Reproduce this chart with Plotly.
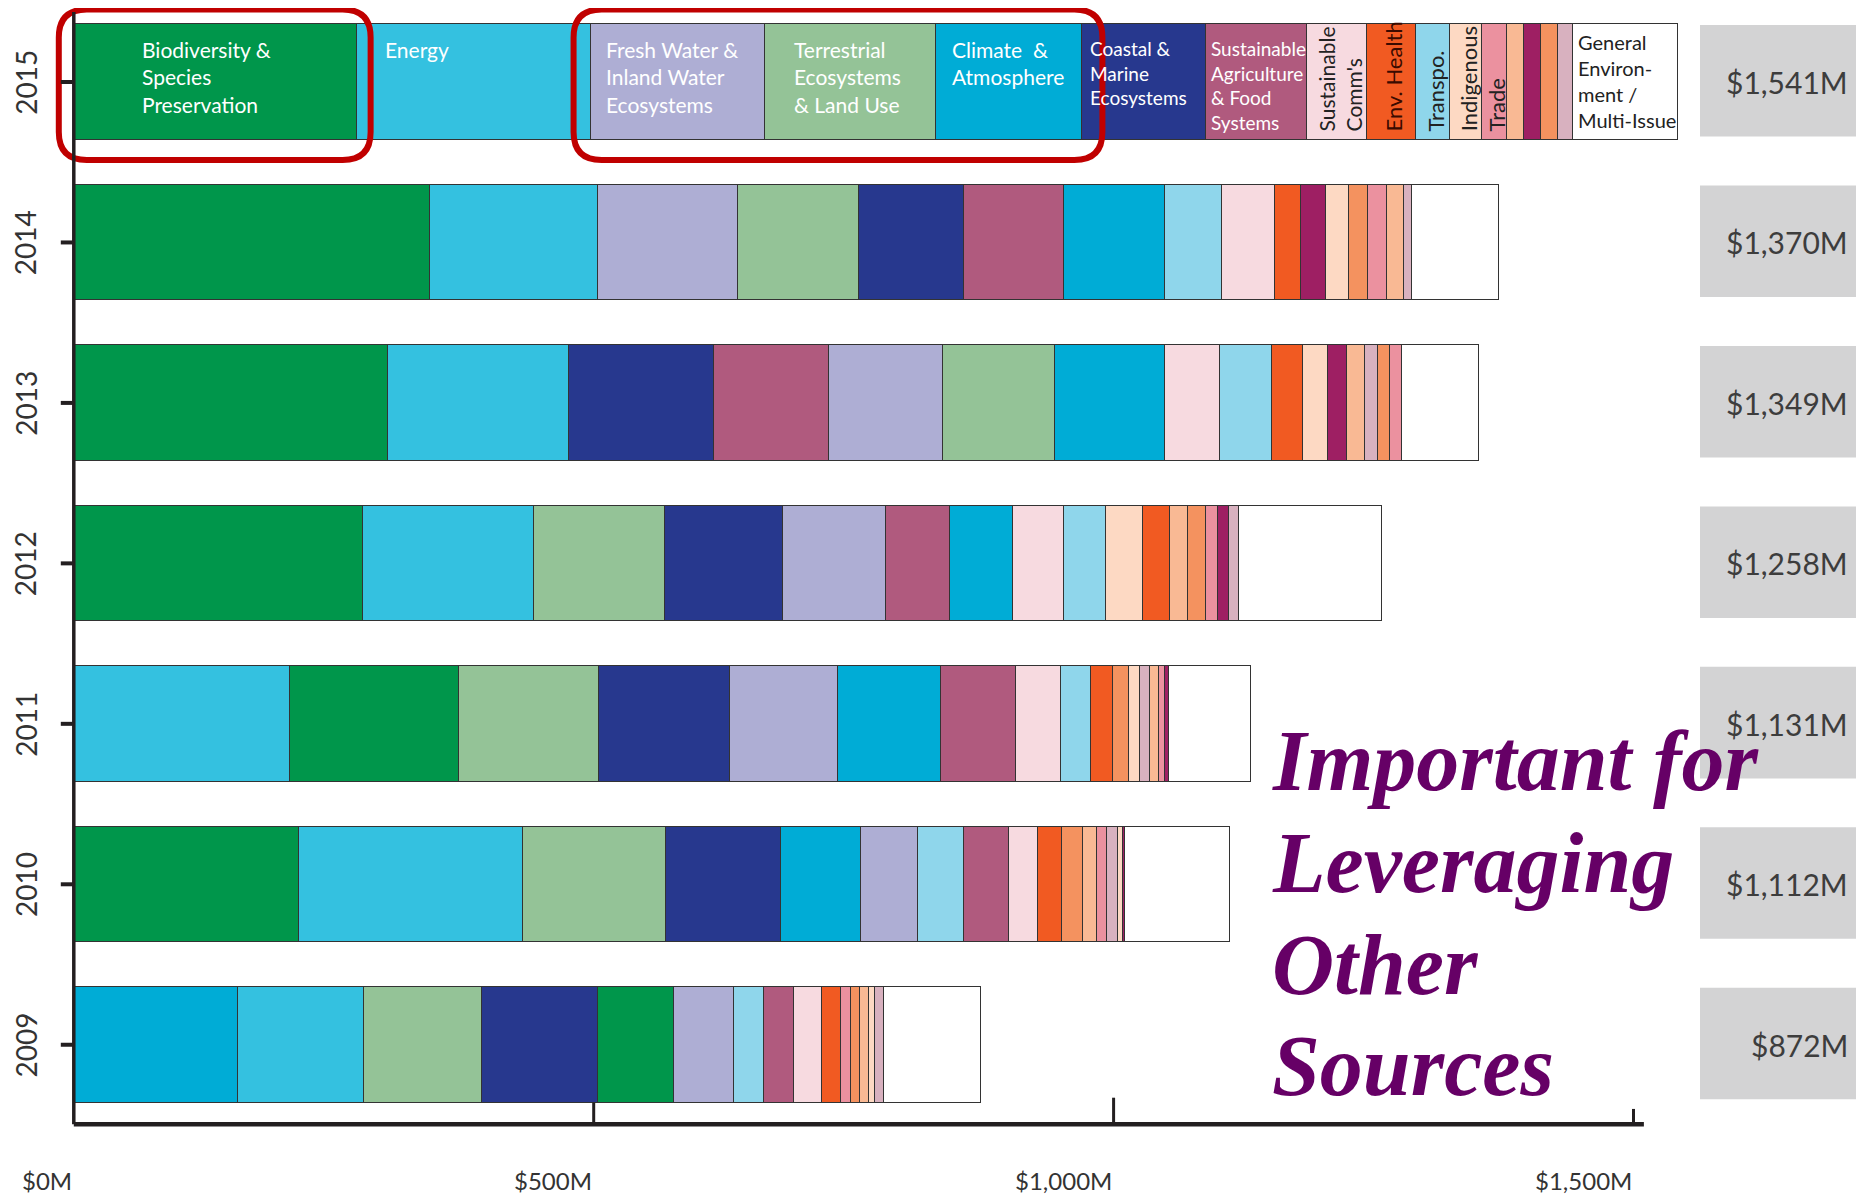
import plotly.graph_objects as go

# ---------------- data ----------------
years = ["2015", "2014", "2013", "2012", "2011", "2010", "2009"]
totals = [1541, 1370, 1349, 1258, 1131, 1112, 872]
tick_values = [0, 500, 1000, 1500]
tick_labels = ["$0M", "$500M", "$1,000M", "$1,500M"]
callout_lines = ["Important for", "Leveraging", "Other", "Sources"]

BIO = "Biodiversity & Species Preservation"
ENE = "Energy"
FRE = "Fresh Water & Inland Water Ecosystems"
TER = "Terrestrial Ecosystems & Land Use"
CLI = "Climate & Atmosphere"
COA = "Coastal & Marine Ecosystems"
AGR = "Sustainable Agriculture & Food Systems"
COM = "Sustainable Communities"
ENV = "Environmental Health"
TRA = "Transportation"
IND = "Indigenous Peoples"
TRD = "Trade & Finance"
POP = "Population"
TOX = "Toxics"
CON = "Consumption & Waste"
OTH = "Other"
GEN = "General Environment / Multi-Issue"

order_2015 = [BIO, ENE, FRE, TER, CLI, COA, AGR, COM, ENV, TRA, IND, TRD, POP, TOX, CON, OTH, GEN]
values_2015 = [272, 225, 168, 164, 141, 119, 97, 58, 47, 33, 30, 24, 17, 16, 16, 15, 101]

order_2014 = [BIO, ENE, FRE, TER, COA, AGR, CLI, TRA, COM, ENV, TOX, IND, CON, TRD, POP, OTH, GEN]
values_2014 = [343, 161, 135, 116, 101, 96, 97, 55, 51, 25, 24, 22, 19, 18, 16, 8, 84]

order_2013 = [BIO, ENE, COA, AGR, FRE, TER, CLI, COM, TRA, ENV, IND, TOX, POP, OTH, CON, TRD, GEN]
values_2013 = [302, 174, 140, 110, 110, 108, 105, 53, 50, 30, 24, 18, 18, 12, 12, 11, 74]

order_2012 = [BIO, ENE, TER, COA, FRE, AGR, CLI, COM, TRA, IND, ENV, POP, CON, TRD, TOX, OTH, GEN]
values_2012 = [278, 165, 126, 113, 99, 62, 60, 49, 41, 35, 26, 18, 17, 11, 11, 10, 137]

order_2011 = [ENE, BIO, TER, COA, FRE, CLI, AGR, COM, TRA, ENV, CON, IND, OTH, POP, TRD, TOX, GEN]
values_2011 = [208, 162, 135, 126, 104, 99, 72, 43, 29, 21, 16, 10, 10, 9, 5, 4, 79]

order_2010 = [BIO, ENE, TER, COA, CLI, FRE, TRA, AGR, COM, ENV, CON, POP, TRD, OTH, IND, TOX, GEN]
values_2010 = [217, 215, 138, 110, 77, 55, 44, 43, 28, 23, 21, 13, 10, 10, 5, 2, 101]

order_2009 = [CLI, ENE, TER, COA, BIO, FRE, TRA, AGR, COM, ENV, TRD, CON, POP, IND, OTH, GEN]
values_2009 = [158, 121, 114, 111, 73, 58, 29, 29, 27, 18, 9, 9, 9, 6, 8, 93]

rows = [
    (order_2015, values_2015), (order_2014, values_2014), (order_2013, values_2013),
    (order_2012, values_2012), (order_2011, values_2011), (order_2010, values_2010),
    (order_2009, values_2009),
]

# ---------------- style ----------------
colors = {
    BIO: "#00964B", ENE: "#34C1E0", FRE: "#AEAED4", TER: "#94C397", CLI: "#00ACD6",
    COA: "#27388E", AGR: "#B05A7E", COM: "#F7DAE0", ENV: "#F15A22", TRA: "#8FD6EB",
    IND: "#FDD9C3", TRD: "#EB919F", POP: "#F9B994", TOX: "#9E1F63", CON: "#F4925F",
    OTH: "#D8B1BF", GEN: "#FFFFFF",
}

# label text, orientation, x shift (px), color, size, y shift (px)
labels_2015 = {
    BIO: ("Biodiversity &<br>Species<br>Preservation", "h", 66, "white", 21, -11),
    ENE: ("Energy", "h", 26, "white", 21, -11),
    FRE: ("Fresh Water &<br>Inland Water<br>Ecosystems", "h", 13, "white", 21, -11),
    TER: ("Terrestrial<br>Ecosystems<br>& Land Use", "h", 27, "white", 21, -11),
    CLI: ("Climate &nbsp;&<br>Atmosphere", "h", 14, "white", 21, -11),
    COA: ("Coastal &<br>Marine<br>Ecosystems", "h", 6, "white", 19, -11),
    AGR: ("Sustainable<br>Agriculture<br>& Food<br>Systems", "h", 3, "white", 19, -11),
    COM: ("Sustainable<br>Comm's", "v", 3, "#222222", 21, 6),
    ENV: ("Env. Health", "v", 2, "#3a0a00", 22, 6),
    TRA: ("Transpo.", "v", 2, "#222222", 22, 6),
    IND: ("Indigenous", "v", 2, "#222222", 22, 6),
    TRD: ("Trade", "v", 2, "#222222", 22, 6),
    GEN: ("General<br>Environ-<br>ment /<br>Multi-Issue", "h", 3, "#222222", 20, -4),
}

OFF = 8                          # page body margin
W, H = 1864 - OFF, 1197 - OFF
ML, MB = 45, 64
PW, PH = W - ML, H - MB
K = 1.0398                       # px per $M
X_MIN = -20
X_MAX = X_MIN + PW / K
Y_BOT, Y_TOP = 6.55, 6.55 - PH / 160.46
BAR_W = 0.72
AXIS_Y = 6.496
FONT = "Lato, 'Open Sans', sans-serif"


def px(x):      # data x -> paper fraction
    return (x - X_MIN) / (X_MAX - X_MIN)


def py(y):      # data y -> paper fraction (reversed axis)
    return (Y_BOT - y) / (Y_BOT - Y_TOP)


fig = go.Figure()

for i, (order, vals) in enumerate(rows):
    for cat, v in zip(order, vals):
        fig.add_trace(go.Bar(
            y=[i], x=[v], orientation="h", width=BAR_W, name=cat,
            marker=dict(color=colors[cat], line=dict(color="#333333", width=1)),
            showlegend=False,
            hovertemplate=f"{years[i]}<br>{cat}: $%{{x}}M<extra></extra>",
        ))

shapes = []
annotations = []

# segment labels on the 2015 bar
start = 0
for cat, v in zip(order_2015, values_2015):
    if cat in labels_2015:
        txt, orient, xs, col, size, ys = labels_2015[cat]
        if orient == "h":
            annotations.append(dict(
                x=start, y=-BAR_W / 2, xref="x", yref="y", text=txt, showarrow=False,
                xanchor="left", yanchor="top", align="left", xshift=xs, yshift=ys,
                font=dict(family=FONT, size=size, color=col)))
        else:
            annotations.append(dict(
                x=start + v / 2, y=BAR_W / 2, xref="x", yref="y", text=txt, showarrow=False,
                textangle=-90, xanchor="center", yanchor="bottom", align="left",
                xshift=xs, yshift=ys, font=dict(family=FONT, size=size, color=col)))
    start += v

# red rounded highlight boxes (around 2015 segments), in paper coords
cum = [0]
for v in values_2015:
    cum.append(cum[-1] + v)


def seg(cat):
    j = order_2015.index(cat)
    return cum[j], cum[j + 1]


def rounded(x0, x1, y0, y1, r_px=28):
    X0, X1 = px(x0), px(x1)
    Y0, Y1 = py(y0), py(y1)       # Y0 top (larger), Y1 bottom
    rx, ry = r_px / PW, r_px / PH
    return (f"M {X0+rx},{Y0} L {X1-rx},{Y0} Q {X1},{Y0} {X1},{Y0-ry} "
            f"L {X1},{Y1+ry} Q {X1},{Y1} {X1-rx},{Y1} L {X0+rx},{Y1} "
            f"Q {X0},{Y1} {X0},{Y1+ry} L {X0},{Y0-ry} Q {X0},{Y0} {X0+rx},{Y0} Z")


b0, b1 = seg(BIO)
f0, _ = seg(FRE)
_, c1 = seg(CLI)
for (x0, x1) in [(b0 - 15 / K, b1 + 14 / K), (f0 - 17 / K, c1 + 20 / K)]:
    shapes.append(dict(type="path", xref="paper", yref="paper",
                       path=rounded(x0, x1, -0.452, 0.486),
                       line=dict(color="#C00000", width=6), layer="above"))

# gray total boxes + totals text
box_x0 = (1700 - OFF - (ML + (0 - X_MIN) * K)) / K
for i, t in enumerate(totals):
    shapes.append(dict(type="rect", xref="x", yref="y", x0=box_x0, x1=X_MAX,
                       y0=i - BAR_W / 2 + 0.005, y1=i + BAR_W / 2 - 0.02,
                       fillcolor="#D3D3D4", line=dict(width=0), layer="below"))
    annotations.append(dict(x=X_MAX, y=i, xref="x", yref="y", text=f"${t:,}M",
                            showarrow=False, xanchor="right", yanchor="middle", xshift=-14,
                            font=dict(family=FONT, size=30, color="#3d3d3d")))

# axes lines & ticks
shapes.append(dict(type="line", xref="x", yref="y", x0=0, x1=0, y0=-0.436, y1=AXIS_Y,
                   line=dict(color="#231F20", width=3.5)))
shapes.append(dict(type="line", xref="x", yref="y", x0=0, x1=1510, y0=AXIS_Y, y1=AXIS_Y,
                   line=dict(color="#231F20", width=4.5)))
tick_tops = {500: 6.36, 1000: 6.33, 1500: 6.40}
for tv in tick_values[1:]:
    shapes.append(dict(type="line", xref="x", yref="y", x0=tv, x1=tv, y0=tick_tops[tv],
                       y1=AXIS_Y, line=dict(color="#231F20", width=3)))
for i, yr in enumerate(years):
    shapes.append(dict(type="line", xref="x", yref="y", x0=-13 / K, x1=0, y0=i, y1=i,
                       line=dict(color="#231F20", width=4)))
    annotations.append(dict(x=px(-48 / K), y=i, xref="paper", yref="y", text=yr,
                            showarrow=False, textangle=-90, xanchor="center",
                            yanchor="middle",
                            font=dict(family=FONT, size=28, color="#333333")))
for tv, tl in zip(tick_values, tick_labels):
    annotations.append(dict(x=tv, y=0, xref="x", yref="paper", text=tl, showarrow=False,
                            xanchor="right", yanchor="middle", yshift=-47,
                            font=dict(family=FONT, size=24, color="#333333")))

# big purple callout, one annotation per line
callout_y = [4.23, 4.87, 5.50, 6.13]
for line_txt, yv in zip(callout_lines, callout_y):
    annotations.append(dict(
        x=1150, y=yv, xref="x", yref="y", text=f"<b><i>{line_txt}</i></b>",
        showarrow=False, xanchor="left", yanchor="middle", align="left",
        font=dict(family="'Liberation Serif', 'Times New Roman', serif", size=86,
                  color="#660066")))

fig.update_layout(
    width=W, height=H, barmode="stack", bargap=0,
    margin=dict(l=ML, r=0, t=0, b=MB),
    paper_bgcolor="white", plot_bgcolor="white",
    xaxis=dict(range=[X_MIN, X_MAX], showgrid=False, zeroline=False, showticklabels=False,
               showline=False, ticks=""),
    yaxis=dict(range=[Y_BOT, Y_TOP], showgrid=False, zeroline=False, showticklabels=False,
               showline=False, ticks=""),
    shapes=shapes, annotations=annotations,
)

fig.write_html("out.html")
